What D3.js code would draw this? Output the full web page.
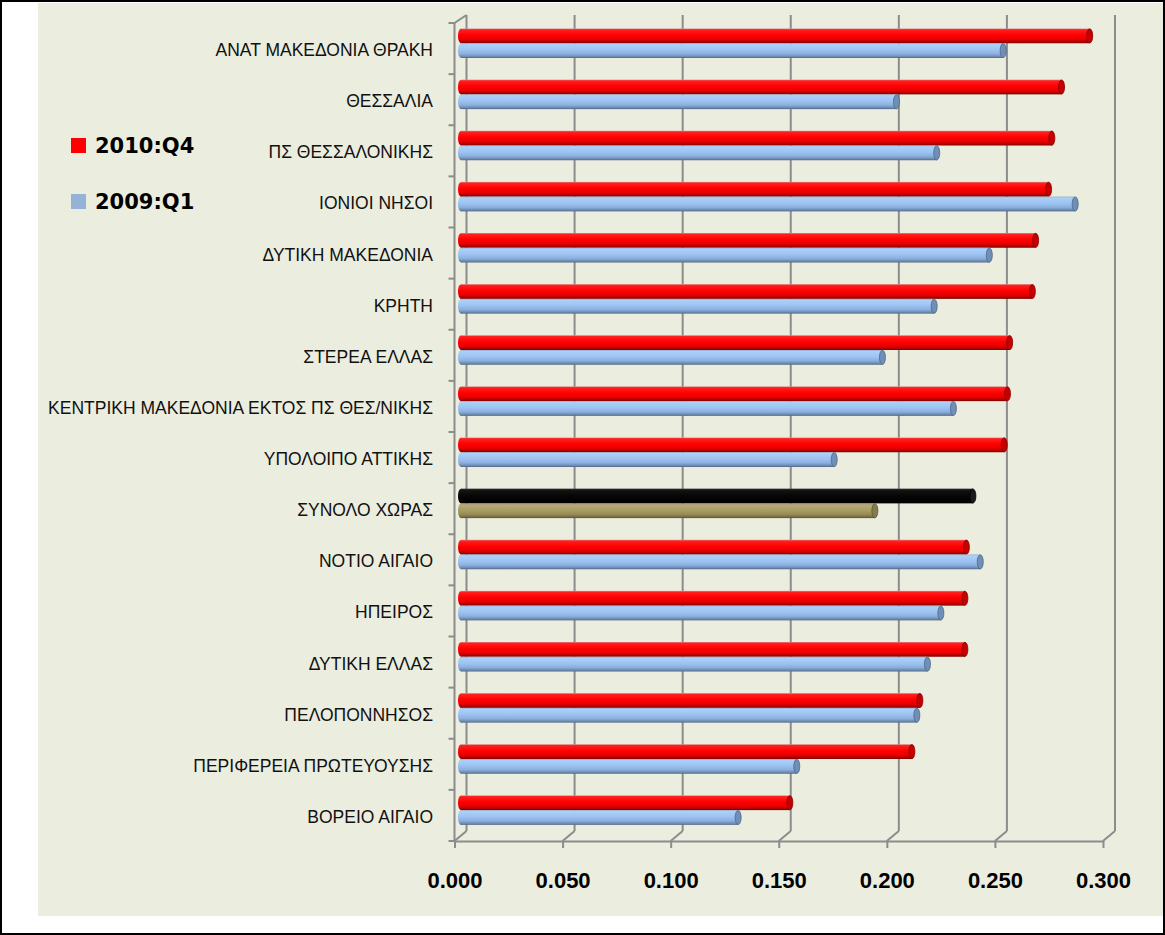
<!DOCTYPE html>
<html>
<head>
<meta charset="utf-8">
<script src="https://cdn.jsdelivr.net/npm/d3@7"></script>
<style>
  html, body { margin: 0; padding: 0; background: #ffffff; }
  svg { display: block; }
</style>
</head>
<body>
<svg id="chart" width="1165" height="935"></svg>
<script>
// ---------------- DATA ----------------
const categories = [
  "ΑΝΑΤ ΜΑΚΕΔΟΝΙΑ ΘΡΑΚΗ",
  "ΘΕΣΣΑΛΙΑ",
  "ΠΣ ΘΕΣΣΑΛΟΝΙΚΗΣ",
  "ΙΟΝΙΟΙ ΝΗΣΟΙ",
  "ΔΥΤΙΚΗ ΜΑΚΕΔΟΝΙΑ",
  "ΚΡΗΤΗ",
  "ΣΤΕΡΕΑ ΕΛΛΑΣ",
  "ΚΕΝΤΡΙΚΗ ΜΑΚΕΔΟΝΙΑ ΕΚΤΟΣ ΠΣ ΘΕΣ/ΝΙΚΗΣ",
  "ΥΠΟΛΟΙΠΟ ΑΤΤΙΚΗΣ",
  "ΣΥΝΟΛΟ ΧΩΡΑΣ",
  "ΝΟΤΙΟ ΑΙΓΑΙΟ",
  "ΗΠΕΙΡΟΣ",
  "ΔΥΤΙΚΗ ΕΛΛΑΣ",
  "ΠΕΛΟΠΟΝΝΗΣΟΣ",
  "ΠΕΡΙΦΕΡΕΙΑ ΠΡΩΤΕΥΟΥΣΗΣ",
  "ΒΟΡΕΙΟ ΑΙΓΑΙΟ"
];
const seriesNames = ["2010:Q4", "2009:Q1"];
const values2010Q4 = [0.292, 0.279, 0.2745, 0.273, 0.267, 0.2655, 0.255, 0.254, 0.2525, 0.238, 0.235, 0.2343, 0.2343, 0.2135, 0.2098, 0.1534];
const values2009Q1 = [0.252, 0.2027, 0.2213, 0.2853, 0.2456, 0.2201, 0.1962, 0.229, 0.1739, 0.1927, 0.2414, 0.2232, 0.217, 0.2121, 0.1566, 0.1295];
const xTickValues = [0, 0.05, 0.1, 0.15, 0.2, 0.25, 0.3];
const totalCategory = "ΣΥΝΟΛΟ ΧΩΡΑΣ";

// ---------------- LAYOUT ----------------
const svg = d3.select("#chart");
const W = 1165, H = 935;
const depth = { dx: 12, dy: -10 };
const axisColor = "#8c8c8c";

// background
svg.append("rect").attr("x", 0).attr("y", 0).attr("width", W).attr("height", H).attr("fill", "#ffffff");
svg.append("rect").attr("x", 38).attr("y", 3).attr("width", W - 40).attr("height", 913).attr("fill", "#ebeddf");
svg.append("rect").attr("x", 1).attr("y", 1).attr("width", W - 2).attr("height", H - 2)
  .attr("fill", "none").attr("stroke", "#000").attr("stroke-width", 2);

// scales
const xFront = d3.scaleLinear().domain([0, 0.3]).range([454.5, 1103]);
const xBack = d3.scaleLinear().domain([0, 0.3]).range([454.5 + depth.dx, 1103 + depth.dx]);
const xBar = d3.scaleLinear().domain([0, 0.3]).range([461, 1110]);
const yBand = d3.scaleBand().domain(categories).range([23, 841]).paddingInner(0).paddingOuter(0);
const ySub = d3.scaleBand().domain(seriesNames).range([5.5, 35]);

const yTopFront = yBand.range()[0];
const yBotFront = yBand.range()[1];

// gradients
const defs = svg.append("defs");
function cyl(id, stops) {
  const g = defs.append("linearGradient").attr("id", id).attr("x1", 0).attr("y1", 0).attr("x2", 0).attr("y2", 1);
  stops.forEach(s => g.append("stop").attr("offset", s[0]).attr("stop-color", s[1]));
}
cyl("gRed", [[0, "#d99090"], [0.08, "#ff2020"], [0.45, "#ff0000"], [0.72, "#e80000"], [0.9, "#b00000"], [1, "#7a0000"]]);
cyl("gBlue", [[0, "#8ea8c8"], [0.08, "#aed0f8"], [0.45, "#9cc3f3"], [0.72, "#8db0dc"], [0.9, "#6d8cb4"], [1, "#4f6784"]]);
cyl("gBlack", [[0, "#3a3a3a"], [0.1, "#141414"], [0.5, "#060606"], [1, "#000000"]]);
cyl("gOlive", [[0, "#8a8260"], [0.1, "#b8ad79"], [0.45, "#aa9e66"], [0.75, "#968b55"], [0.9, "#7a7042"], [1, "#59522f"]]);

const palette = {
  normal: { "2010:Q4": { fill: "url(#gRed)", cap: "#c40000", capStroke: "#8a0000" },
            "2009:Q1": { fill: "url(#gBlue)", cap: "#6f8fb8", capStroke: "#4f6784" } },
  total:  { "2010:Q4": { fill: "url(#gBlack)", cap: "#1a1a1a", capStroke: "#000" },
            "2009:Q1": { fill: "url(#gOlive)", cap: "#857b4b", capStroke: "#5c5534" } }
};

// ---------------- BACK WALL GRIDLINES ----------------
const grid = svg.append("g");
xTickValues.forEach(v => {
  grid.append("line")
    .attr("x1", xBack(v)).attr("x2", xBack(v))
    .attr("y1", yTopFront + depth.dy + 2).attr("y2", yBotFront + depth.dy)
    .attr("stroke", axisColor).attr("stroke-width", 2);
  // floor diagonal
  grid.append("line")
    .attr("x1", xFront(v)).attr("y1", yBotFront)
    .attr("x2", xBack(v)).attr("y2", yBotFront + depth.dy)
    .attr("stroke", axisColor).attr("stroke-width", 2);
});
// top-left diagonal
grid.append("line")
  .attr("x1", xFront(0)).attr("y1", yTopFront)
  .attr("x2", xBack(0)).attr("y2", yTopFront + depth.dy + 2)
  .attr("stroke", axisColor).attr("stroke-width", 2);

// ---------------- BARS ----------------
const rows = categories.map((c, i) => ({
  cat: c,
  vals: [{ s: seriesNames[0], v: values2010Q4[i] }, { s: seriesNames[1], v: values2009Q1[i] }]
}));
const capRx = 3;
const barG = svg.append("g");
rows.forEach(r => {
  const pal = r.cat === totalCategory ? palette.total : palette.normal;
  r.vals.forEach(d => {
    const y0 = yBand(r.cat) + ySub(d.s);
    const h = ySub.bandwidth();
    const xs = xBar(0);
    const xe = xBar(d.v) - capRx;
    const p = pal[d.s];
    // left rounded end
    barG.append("ellipse").attr("cx", xs).attr("cy", y0 + h / 2).attr("rx", capRx).attr("ry", h / 2)
      .attr("fill", p.fill);
    barG.append("rect").attr("x", xs).attr("y", y0).attr("width", Math.max(0, xe - xs)).attr("height", h)
      .attr("fill", p.fill);
    barG.append("ellipse").attr("cx", xe).attr("cy", y0 + h / 2).attr("rx", capRx).attr("ry", h / 2 - 0.3)
      .attr("fill", p.cap).attr("stroke", p.capStroke).attr("stroke-width", 0.8);
  });
});

// ---------------- FRONT AXES ----------------
// left (category) axis line
svg.append("line")
  .attr("x1", xFront(0)).attr("x2", xFront(0))
  .attr("y1", yTopFront).attr("y2", yBotFront)
  .attr("stroke", axisColor).attr("stroke-width", 2);
// category tick marks at band boundaries
const boundaries = categories.map(c => yBand(c)).concat([yBotFront]);
svg.append("g").selectAll("line").data(boundaries).join("line")
  .attr("x1", xFront(0) - 6).attr("x2", xFront(0))
  .attr("y1", d => d).attr("y2", d => d)
  .attr("stroke", axisColor).attr("stroke-width", 2);
// category labels
svg.append("g").selectAll("text").data(categories).join("text")
  .attr("x", 433)
  .attr("y", c => yBand(c) + 27)
  .attr("text-anchor", "end")
  .attr("dominant-baseline", "central")
  .attr("font-family", "'Liberation Sans', Arial, sans-serif")
  .attr("font-size", "17.5px")
  .attr("fill", "#111")
  .text(c => c);

// bottom value axis
const xAxis = d3.axisBottom(xFront).tickValues(xTickValues).tickFormat(d3.format(".3f")).tickSize(7).tickSizeOuter(0);
const xg = svg.append("g").attr("transform", `translate(0,${yBotFront})`).call(xAxis);
xg.select(".domain").attr("stroke", axisColor).attr("stroke-width", 2);
xg.selectAll(".tick line").attr("stroke", axisColor).attr("stroke-width", 2);
xg.selectAll(".tick text")
  .attr("y", 31)
  .attr("font-family", "'Liberation Sans', Arial, sans-serif")
  .attr("font-weight", "bold")
  .attr("font-size", "22px")
  .attr("fill", "#000");

// ---------------- LEGEND ----------------
const legendColors = { "2010:Q4": "#ff0000", "2009:Q1": "#95b3d7" };
const legendY = d3.scalePoint().domain(seriesNames).range([153, 209]);
const lg = svg.append("g");
seriesNames.forEach(s => {
  lg.append("rect").attr("x", 71).attr("y", legendY(s) - 15).attr("width", 15).attr("height", 15)
    .attr("fill", legendColors[s]);
  lg.append("text").attr("x", 95).attr("y", legendY(s))
    .attr("font-family", "'DejaVu Sans', sans-serif").attr("font-weight", "bold").attr("font-size", "21px")
    .attr("fill", "#000").text(s);
});
</script>
</body>
</html>
